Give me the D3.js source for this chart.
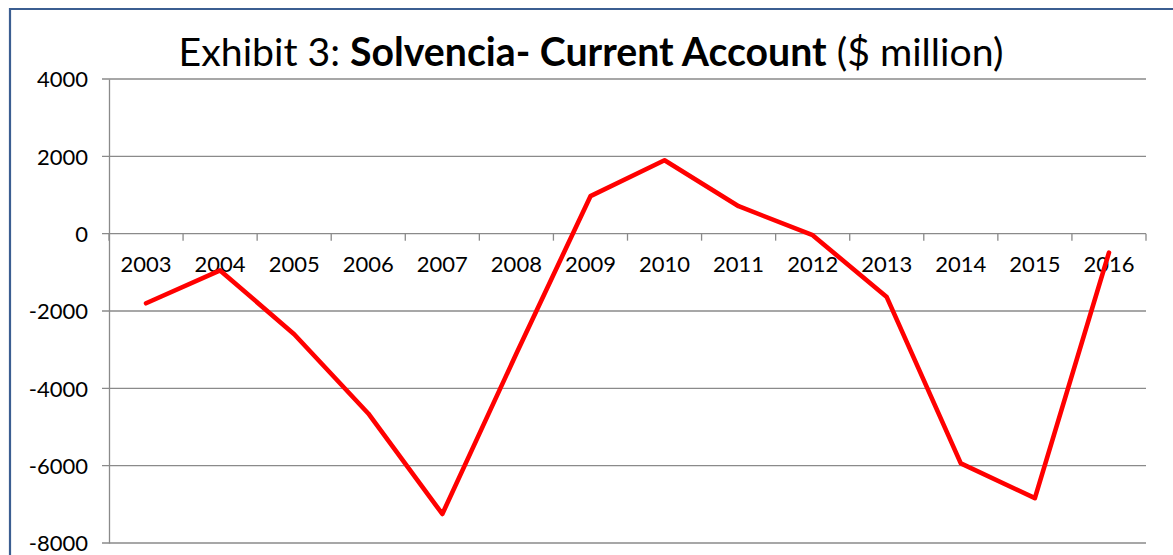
<!DOCTYPE html>
<html lang="en">
<head>
<meta charset="utf-8">
<title>Solvencia - Current Account</title>
<script src="https://d3js.org/d3.v7.min.js"></script>
<style>
  body { margin: 0; background: #fff; }
  svg text { font-family: Lato, "Open Sans", sans-serif; fill: #000; }
</style>
</head>
<body>
<script>
// chart data
var years = ["2003","2004","2005","2006","2007","2008","2009","2010","2011","2012","2013","2014","2015","2016"];
var currentAccount = [-1800, -950, -2600, -4650, -7250, -3100, 970, 1900, 710, -40, -1640, -5940, -6840, -490];
var yTicks = [4000, 2000, 0, -2000, -4000, -6000, -8000];

var w = 1173, h = 555;
// plot box (note: "top" is reserved on window, so use other names)
var plotLeft = 109, plotRight = 1146, plotTop = 79, plotBottom = 543;

var svg = d3.select("body").append("svg")
    .attr("width", w)
    .attr("height", h);

// outer frame (only left and top edges show in the picture)
svg.append("path")
    .attr("d", "M10,555 L10,9 L1173,9")
    .attr("fill", "none")
    .attr("stroke", "#3b5e91")
    .attr("stroke-width", 2.2);

var x = d3.scaleBand().domain(years).range([plotLeft, plotRight]);
var y = d3.scaleLinear().domain([-8000, 4000]).range([plotBottom, plotTop]);

// horizontal gridlines
svg.append("g").selectAll("line")
    .data(yTicks)
    .enter().append("line")
    .attr("x1", plotLeft - 7).attr("x2", plotRight)
    .attr("y1", function(d) { return y(d); })
    .attr("y2", function(d) { return y(d); })
    .attr("stroke", "#8a8a8a")
    .attr("stroke-width", 1.3);

// y axis - plain hyphen minus like Excel, not the unicode minus
var yAxis = d3.axisLeft(y).tickValues(yTicks)
    .tickFormat(function(d) { return String(d); })
    .tickSize(0).tickPadding(21);
var gy = svg.append("g").attr("transform", "translate(" + plotLeft + ",0)").call(yAxis);
gy.select(".domain").attr("stroke", "#8a8a8a").attr("stroke-width", 1.3);
gy.selectAll("text").style("font-size", "22px").attr("dy", "0.36em");

// category axis at zero
var zeroY = y(0);
var gx = svg.append("g");
gx.selectAll("line")
    .data(years.map(function(d) { return x(d); }).concat([plotRight]))
    .enter().append("line")
    .attr("x1", function(d) { return d; }).attr("x2", function(d) { return d; })
    .attr("y1", zeroY).attr("y2", zeroY + 7)
    .attr("stroke", "#8a8a8a")
    .attr("stroke-width", 1.3);
gx.selectAll("text")
    .data(years)
    .enter().append("text")
    .attr("x", function(d) { return x(d) + x.bandwidth() / 2; })
    .attr("y", zeroY + 38)
    .attr("text-anchor", "middle")
    .style("font-size", "22px")
    .text(function(d) { return d; });

// the series line
var line = d3.line()
    .x(function(d, i) { return x(years[i]) + x.bandwidth() / 2; })
    .y(function(d) { return y(d); });

svg.append("path")
    .datum(currentAccount)
    .attr("d", line)
    .attr("fill", "none")
    .attr("stroke", "#ff0000")
    .attr("stroke-width", 4.6)
    .attr("stroke-linejoin", "round")
    .attr("stroke-linecap", "round");

// title, scaled to match the original width
var title = svg.append("text")
    .attr("x", 591)
    .attr("y", 66)
    .attr("text-anchor", "middle")
    .style("font-size", "34px");
title.append("tspan").text("Exhibit 3: ");
title.append("tspan").style("font-weight", "bold").text("Solvencia- Current Account");
title.append("tspan").text(" ($ million)");
var tw = title.node().getComputedTextLength();
title.style("font-size", (34 * 825 / tw) + "px");
</script>
</body>
</html>
